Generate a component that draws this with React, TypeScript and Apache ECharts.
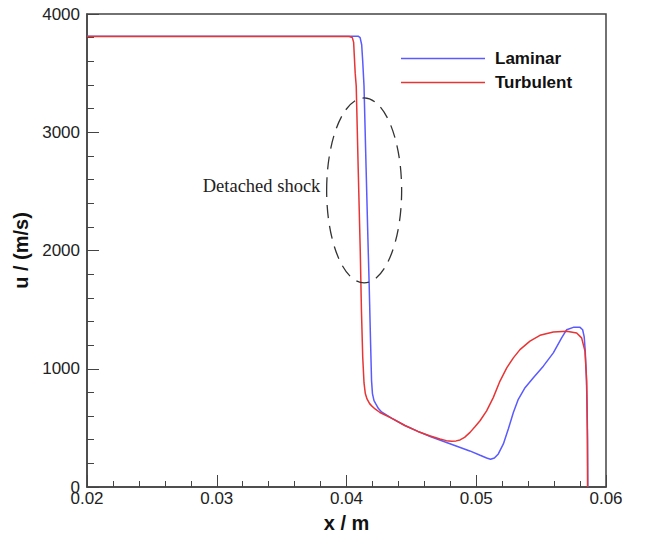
import React, { useEffect, useRef } from "react";
import * as echarts from "echarts";

const laminarX = [
  0.02, 0.0405, 0.0409, 0.04105, 0.04117, 0.04125, 0.04135, 0.04151, 0.04165, 0.04175, 0.04186, 0.04193,
  0.042, 0.04212, 0.04227, 0.04245, 0.0427, 0.0435, 0.0445, 0.0455, 0.0465, 0.0475, 0.0485, 0.0495,
  0.0503, 0.0508, 0.0511, 0.0514, 0.0517, 0.05209, 0.05247, 0.05286, 0.05324, 0.05376, 0.0544, 0.05517,
  0.05594, 0.05658, 0.05697, 0.05748, 0.058, 0.0582, 0.05832, 0.0584, 0.05848, 0.05854, 0.05858, 0.0586,
];
const laminarU = [
  3812, 3812, 3812, 3800, 3740, 3600, 3390, 2700, 2100, 1700, 1200, 900,
  790, 730, 700, 665, 635, 580, 520, 470, 425, 385, 345, 305,
  268, 245, 235, 245, 280, 364, 490, 630, 742, 840, 924, 1022,
  1134, 1261, 1330, 1350, 1350, 1330, 1270, 1150, 950, 700, 400, 0,
];

const turbulentX = [
  0.02, 0.0402, 0.04045, 0.04055, 0.0406, 0.04067, 0.04075, 0.0409, 0.04106, 0.04115, 0.04125, 0.04135,
  0.04145, 0.04158, 0.04178, 0.04194, 0.0422, 0.04258, 0.0435, 0.0445, 0.0455, 0.0464, 0.0472, 0.0477,
  0.0481, 0.04845, 0.04875, 0.0491, 0.04952, 0.0499, 0.05029, 0.0508, 0.05131, 0.05183, 0.05235, 0.05286,
  0.05337, 0.05414, 0.05491, 0.05594, 0.05697, 0.05774, 0.05812, 0.05838, 0.05851, 0.05856, 0.05858,
];
const turbulentU = [
  3810, 3810, 3800, 3760, 3650, 3500, 3390, 2700, 2000, 1500, 1100, 880,
  790, 745, 705, 686, 660, 630, 580, 520, 470, 434, 406, 392,
  387, 390, 398, 420, 462, 510, 560, 644, 756, 896, 1008, 1092,
  1162, 1233, 1283, 1311, 1317, 1303, 1261, 1149, 897, 476, 0,
];

const seriesNames = ["Laminar", "Turbulent"];
const seriesColors = ["#5a5aff", "#e83434"];
const xTicks = [0.02, 0.06, 0.01];
const yTicks = [0, 4000, 1000];

const pair = (xs: number[], ys: number[]) => xs.map((x, i) => [x, ys[i]]);

export default function App() {
  const ref = useRef<HTMLDivElement>(null);
  useEffect(() => {
    if (!ref.current) return;
    const chart = echarts.init(ref.current, undefined, { renderer: "svg" });
    const font = "Arial, 'Liberation Sans', sans-serif";
    chart.setOption({
      animation: false,
      backgroundColor: "#ffffff",
      grid: {
        left: 87,
        right: 39,
        top: 14,
        bottom: 48,
        show: true,
        borderColor: "#444",
        borderWidth: 1.5,
      },
      legend: {
        orient: "vertical",
        left: 396,
        top: 45,
        icon: "rect",
        itemWidth: 84,
        itemHeight: 1.5,
        itemGap: 7,
        data: seriesNames,
        textStyle: {
          fontFamily: font,
          fontWeight: "bold",
          fontSize: 17,
          lineHeight: 16,
          color: "#111",
          padding: [0, 0, 0, 5],
        },
      },
      xAxis: {
        type: "value",
        min: xTicks[0],
        max: xTicks[1],
        interval: xTicks[2],
        name: "x / m",
        nameLocation: "middle",
        nameGap: 26,
        nameTextStyle: { fontFamily: font, fontWeight: "bold", fontSize: 20, color: "#111" },
        axisLine: { lineStyle: { color: "#444", width: 1.5 } },
        axisTick: { inside: true, length: 12, lineStyle: { color: "#444" } },
        minorTick: { show: true, splitNumber: 5, length: 6, lineStyle: { color: "#444" } },
        splitLine: { show: false },
        axisLabel: {
          fontFamily: font,
          fontSize: 17,
          color: "#222",
          margin: 3,
          formatter: (v: number) => v.toFixed(2),
        },
      },
      yAxis: {
        type: "value",
        min: yTicks[0],
        max: yTicks[1],
        interval: yTicks[2],
        name: "u / (m/s)",
        nameLocation: "middle",
        nameGap: 48,
        nameTextStyle: { fontFamily: font, fontWeight: "bold", fontSize: 20, color: "#111" },
        axisLine: { show: true, lineStyle: { color: "#444", width: 1.5 } },
        axisTick: { show: true, inside: true, length: 12, lineStyle: { color: "#444" } },
        minorTick: { show: true, splitNumber: 5, length: 7, lineStyle: { color: "#444" } },
        splitLine: { show: false },
        axisLabel: {
          fontFamily: font,
          fontSize: 17,
          color: "#222",
          margin: 7,
          formatter: (v: number) => String(v),
        },
      },
      series: [
        {
          name: seriesNames[0],
          type: "line",
          data: pair(laminarX, laminarU),
          symbol: "none",
          lineStyle: { color: seriesColors[0], width: 1.5 },
          itemStyle: { color: seriesColors[0] },
          z: 2,
        },
        {
          name: seriesNames[1],
          type: "line",
          data: pair(turbulentX, turbulentU),
          symbol: "none",
          lineStyle: { color: seriesColors[1], width: 1.5 },
          itemStyle: { color: seriesColors[1] },
          z: 3,
        },
      ],
    });

    const c = chart.convertToPixel({ gridIndex: 0 }, [0.04136, 2508]) as number[];
    const l = chart.convertToPixel({ gridIndex: 0 }, [0.03847, 3290]) as number[];
    const t = chart.convertToPixel({ gridIndex: 0 }, [0.02892, 2546]) as number[];
    chart.setOption({
      graphic: [
        {
          type: "ellipse",
          shape: { cx: c[0], cy: c[1], rx: c[0] - l[0], ry: c[1] - l[1] },
          style: { fill: "none", stroke: "#333", lineWidth: 1.3, lineDash: [13, 8] },
          z: 10,
        },
        {
          type: "text",
          x: t[0],
          y: t[1],
          style: {
            text: "Detached shock",
            fontFamily: "'Liberation Serif', 'Times New Roman', serif",
            fontSize: 18.5,
            fill: "#222",
            verticalAlign: "middle",
          },
          z: 10,
        },
      ],
    });
    return () => chart.dispose();
  }, []);
  return (
    <div
      ref={ref}
      style={{ position: "fixed", left: 0, top: 0, width: 645, height: 538, background: "#fff" }}
    />
  );
}
